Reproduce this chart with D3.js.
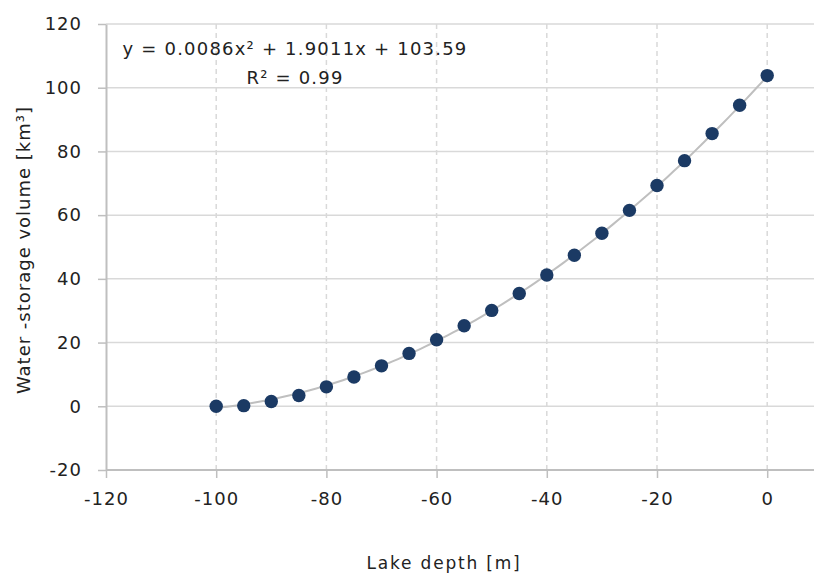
<!DOCTYPE html>
<html>
<head>
<meta charset="utf-8">
<script src="https://cdn.jsdelivr.net/npm/d3@7"></script>
<style>
  body { margin: 0; background: #fff; }
  svg { display: block; font-family: "Century Gothic", "DejaVu Sans", sans-serif; }
</style>
</head>
<body>
<div id="container"></div>
<script>
var width = 814;
var height = 578;

// lake depth [m] and storage volume [km3]
var depths = [-100, -95, -90, -85, -80, -75, -70, -65, -60, -55, -50,
              -45, -40, -35, -30, -25, -20, -15, -10, -5, 0];
var volumes = [0, 0.2, 1.5, 3.4, 6.1, 9.2, 12.7, 16.6, 20.9, 25.3, 30.1,
               35.4, 41.2, 47.4, 54.3, 61.5, 69.3, 77.1, 85.6, 94.5, 103.8];

var xTicks = [-120, -100, -80, -60, -40, -20, 0];
var yTicks = [-20, 0, 20, 40, 60, 80, 100, 120];

// trendline coefficients as printed on the chart (a*x^2 + b*x + c)
var trendCoef = [0.0086, 1.9011, 103.59];
var eqLines = ["y = 0.0086x\u00B2 + 1.9011x + 103.59", "R\u00B2 = 0.99"];

var xLabel = "Lake depth [m]";
var yLabel = "Water -storage volume [km\u00B3]";

var x = d3.scaleLinear().domain([-120, 10]).range([106, 106 + 110.2 * 6.5]);
var y = d3.scaleLinear().domain([-20, 120]).range([470, 24]);

// plain hyphen for negatives, like the original
var fmt = function(d) { return String(d); };
var textColor = "#222";

const svg = d3.create("svg")
    .attr("width", width)
    .attr("height", height);

// horizontal gridlines (solid)
svg.append("g").selectAll("line").data(yTicks.filter(function(d) { return d > -20; }))
    .enter().append("line")
    .attr("x1", x(-120)).attr("x2", width)
    .attr("y1", function(d) { return y(d); })
    .attr("y2", function(d) { return y(d); })
    .attr("stroke", "#d9d9d9")
    .attr("stroke-width", 1.5);

// vertical gridlines (dashed)
svg.append("g").selectAll("line").data(xTicks.filter(function(d) { return d > -120; }))
    .enter().append("line")
    .attr("x1", function(d) { return x(d); })
    .attr("x2", function(d) { return x(d); })
    .attr("y1", y(120)).attr("y2", y(-20))
    .attr("stroke", "#d9d9d9")
    .attr("stroke-width", 1.5)
    .attr("stroke-dasharray", "5,4");

// axes
var xAxis = svg.append("g")
    .attr("transform", "translate(0," + y(-20) + ")")
    .call(d3.axisBottom(x).tickValues(xTicks).tickFormat(fmt).tickSize(8).tickSizeOuter(0).tickPadding(14));
var yAxis = svg.append("g")
    .attr("transform", "translate(" + x(-120) + ",0)")
    .call(d3.axisLeft(y).tickValues(yTicks).tickFormat(fmt).tickSize(8).tickSizeOuter(0).tickPadding(16));

[xAxis, yAxis].forEach(function(a) {
    a.select(".domain").attr("stroke", "#bfbfbf").attr("stroke-width", 2);
    a.selectAll(".tick line").attr("stroke", "#bfbfbf").attr("stroke-width", 1.5);
    a.selectAll(".tick text")
        .attr("fill", textColor)
        .style("font-size", "18px")
        .style("letter-spacing", "1px");
    a.attr("font-family", null).attr("font-size", null);
});
xAxis.select(".domain").attr("d", "M" + x(-120) + ",0H" + width);

// trendline
var trendX = d3.range(depths[0], depths[depths.length - 1] + 0.5, 1);
var line = d3.line()
    .x(function(d) { return x(d); })
    .y(function(d) { return y(trendCoef[0] * d * d + trendCoef[1] * d + trendCoef[2]); });
svg.append("path")
    .datum(trendX)
    .attr("d", line)
    .attr("fill", "none")
    .attr("stroke", "#bfbfbf")
    .attr("stroke-width", 2);

// points
svg.append("g").selectAll("circle").data(depths)
    .enter().append("circle")
    .attr("cx", function(d) { return x(d); })
    .attr("cy", function(d, i) { return y(volumes[i]); })
    .attr("r", 6.7)
    .attr("fill", "#1b3a64");

// trend equation
svg.append("g").selectAll("text").data(eqLines)
    .enter().append("text")
    .attr("x", 295)
    .attr("y", function(d, i) { return 55 + i * 29; })
    .attr("text-anchor", "middle")
    .attr("fill", textColor)
    .style("font-size", "18px")
    .style("letter-spacing", "1.2px")
    .text(function(d) { return d; });

// axis titles
svg.append("text")
    .attr("x", 444).attr("y", 569)
    .attr("text-anchor", "middle")
    .attr("fill", textColor)
    .style("font-size", "17px")
    .style("letter-spacing", "1.8px")
    .text(xLabel);

svg.append("text")
    .attr("transform", "translate(30,250) rotate(-90)")
    .attr("text-anchor", "middle")
    .attr("fill", textColor)
    .style("font-size", "18px")
    .style("letter-spacing", "1px")
    .text(yLabel);

document.getElementById("container").append(svg.node());
</script>
</body>
</html>
